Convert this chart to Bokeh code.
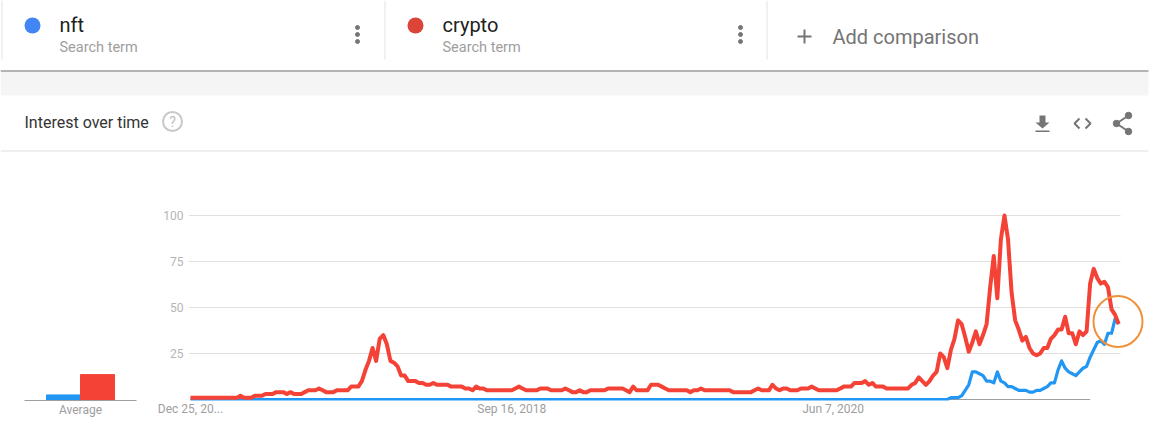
from bokeh.embed import file_html
from bokeh.resources import INLINE
from bokeh.plotting import figure
from bokeh.layouts import column, row
from bokeh.models import Range1d, FixedTicker
from bokeh.core.properties import value

# ---------- data ----------
tick_weeks = [0, 90, 180]
tick_labels = ["Dec 25, 20...", "Sep 16, 2018", "Jun 7, 2020"]
y_ticks = [25, 50, 75, 100]
avg_nft = 3
avg_crypto = 14
crypto = [
    1,1,1,1,1,1,1,1,1,1,1,1,1,1,2,1,1,1,2,2,2,3,3,3,4,4,4,3,4,3,
    3,3,4,5,5,5,6,5,4,4,4,5,5,5,5,7,7,7,10,16,21,28,21,33,35,30,21,20,18,13,
    13,10,10,10,9,9,8,8,9,8,8,8,8,7,7,7,7,6,6,5,7,6,6,5,5,5,5,5,5,5,
    5,6,7,6,5,5,5,5,6,6,6,5,5,5,5,6,5,4,4,5,4,4,5,5,5,5,5,6,6,6,
    6,6,5,4,7,5,5,5,5,8,8,8,7,6,5,5,5,5,5,5,4,5,5,6,5,5,5,5,5,5,
    5,5,4,4,4,4,4,4,5,6,5,5,5,8,6,5,6,6,5,5,5,6,6,6,7,6,5,5,5,5,
    5,5,6,7,7,7,9,9,9,10,8,9,7,7,7,6,6,6,6,6,6,6,8,9,12,10,8,10,13,15,
    25,23,17,27,33,43,41,34,26,31,37,30,35,41,61,78,55,87,100,87,58,43,38,32,34,28,25,24,25,28,
    28,33,35,38,38,45,36,36,30,37,35,37,63,71,66,63,64,61,49,46,41,
]
nft = [
    0,0,0,0,0,0,0,0,0,0,0,0,0,0,0,0,0,0,0,0,0,0,0,0,0,0,0,0,0,0,
    0,0,0,0,0,0,0,0,0,0,0,0,0,0,0,0,0,0,0,0,0,0,0,0,0,0,0,0,0,0,
    0,0,0,0,0,0,0,0,0,0,0,0,0,0,0,0,0,0,0,0,0,0,0,0,0,0,0,0,0,0,
    0,0,0,0,0,0,0,0,0,0,0,0,0,0,0,0,0,0,0,0,0,0,0,0,0,0,0,0,0,0,
    0,0,0,0,0,0,0,0,0,0,0,0,0,0,0,0,0,0,0,0,0,0,0,0,0,0,0,0,0,0,
    0,0,0,0,0,0,0,0,0,0,0,0,0,0,0,0,0,0,0,0,0,0,0,0,0,0,0,0,0,0,
    0,0,0,0,0,0,0,0,0,0,0,0,0,0,0,0,0,0,0,0,0,0,0,0,0,0,0,0,0,0,
    0,0,0,1,1,1,2,5,8,15,15,14,13,10,10,9,15,10,9,7,7,6,5,5,5,4,4,5,5,6,
    7,9,9,16,21,17,15,14,13,15,17,18,23,27,31,32,30,36,36,44,41,
]
weeks = list(range(len(nft)))
crypto_weeks = list(range(len(crypto)))

BLUE, RED = "#2196f3", "#f44336"
FONT = value("Roboto")
GREY = "#757575"

# ---------- header (page-pixel coordinates) ----------
h = figure(width=1174, height=203, x_range=Range1d(0, 1174), y_range=Range1d(203, 0),
           toolbar_location=None, output_backend="svg", min_border=0,
           x_axis_type=None, y_axis_type=None, outline_line_color=None)
h.grid.visible = False
h.quad(left=[0], right=[1148], top=[71], bottom=[95], fill_color="#f5f5f5", line_color=None)
h.quad(left=[0], right=[1148], top=[69.5], bottom=[71.5], fill_color="#b4b4b4", line_color=None)
h.quad(left=[0], right=[1148], top=[150], bottom=[151], fill_color="#e0e0e0", line_color=None)
h.quad(left=[1, 384, 766], right=[2, 385, 767], top=[0, 0, 0], bottom=[59, 59, 59],
       fill_color="#e4e4e4", line_color=None)
h.ellipse(x=[32, 415], y=[25, 25], width=16, height=16, fill_color=["#4285f4", "#db4437"], line_color=None)
h.text(x=[59, 442], y=[24, 24], text=["nft", "crypto"], text_font=FONT, text_font_size="20px",
       text_color="#212121", text_baseline="middle")
h.text(x=[59, 442], y=[47, 47], text=["Search term", "Search term"], text_font=FONT, text_font_size="14.5px",
       text_color="#9e9e9e", text_baseline="middle")
h.scatter(x=[357, 357, 357, 740, 740, 740], y=[27, 34, 41, 27, 34, 41], size=4, color=GREY)
h.segment(x0=[797, 804], y0=[36, 29], x1=[811, 804], y1=[36, 43], line_color=GREY, line_width=2)
h.text(x=[832], y=[36], text=["Add comparison"], text_font=FONT, text_font_size="20px",
       text_color=GREY, text_baseline="middle")
h.text(x=[24], y=[122], text=["Interest over time"], text_font=FONT, text_font_size="16px",
       text_color="#333333", text_baseline="middle")
h.ellipse(x=[172], y=[121], width=19, height=19, fill_color=None, line_color="#c8c8c8", line_width=2)
h.text(x=[172], y=[121.5], text=["?"], text_font=FONT, text_font_size="14px", text_color="#bdbdbd",
       text_align="center", text_baseline="middle")
h.patch(x=[1039, 1045, 1045, 1049, 1042, 1035, 1039], y=[115, 115, 122, 122, 128, 122, 122],
        fill_color=GREY, line_color=None)
h.quad(left=[1035], right=[1049], top=[130], bottom=[131.5], fill_color=GREY, line_color=None)
h.multi_line(xs=[[1079, 1074, 1079], [1085, 1090, 1085]], ys=[[118, 123, 128], [118, 123, 128]],
             line_color=GREY, line_width=2)
h.multi_line(xs=[[1128, 1116, 1128]], ys=[[115, 123, 131]], line_color=GREY, line_width=2)
h.scatter(x=[1128, 1116, 1128], y=[115, 123, 131], size=6.5, color=GREY)

# ---------- average bars ----------
Y_END = 190 / 1.85
b = figure(width=150, height=233, x_range=Range1d(-56 / 34, 56 / 34), y_range=Range1d(0, Y_END),
           toolbar_location=None, output_backend="svg", min_border_left=24, min_border_right=14,
           min_border_top=7, min_border_bottom=36, outline_line_color=None, y_axis_type=None)
b.grid.visible = False
b.vbar(x=[-0.5, 0.5], top=[avg_nft, avg_crypto], width=1, color=[BLUE, RED])
b.xaxis.ticker = FixedTicker(ticks=[0])
b.xaxis.major_label_overrides = {0: "Average"}
b.xaxis.axis_line_color = "#9e9e9e"
b.xaxis.major_tick_line_color = None
b.xaxis.major_tick_out = 0
b.xaxis.major_tick_in = 0
b.xaxis.minor_tick_line_color = None
b.xaxis.major_label_text_font = "Roboto"
b.xaxis.major_label_text_font_size = "12px"
b.xaxis.major_label_text_color = "#9e9e9e"
b.xaxis.major_label_standoff = 2

# ---------- main line chart ----------
PX_WK = 3.57
m = figure(width=1024, height=233,
           x_range=Range1d(-2 / PX_WK, 984 / PX_WK), y_range=Range1d(-1 / 1.85, Y_END),
           toolbar_location=None, output_backend="svg", min_border_left=38, min_border_right=0,
           min_border_top=7, min_border_bottom=31, outline_line_color=None)
m.xgrid.visible = False
m.ygrid.ticker = FixedTicker(ticks=y_ticks)
m.ygrid.grid_line_color = "#e0e0e0"
m.ygrid.cross_bounds = (-2 / PX_WK, 930 / PX_WK)
m.yaxis.ticker = FixedTicker(ticks=y_ticks)
m.yaxis.axis_line_color = None
m.yaxis.major_tick_line_color = None
m.yaxis.major_tick_out = 0
m.yaxis.major_tick_in = 0
m.yaxis.minor_tick_line_color = None
m.yaxis.major_label_text_font = "Roboto"
m.yaxis.major_label_text_font_size = "12px"
m.yaxis.major_label_text_color = "#b5b5b5"
m.yaxis.major_label_standoff = 5
m.xaxis.ticker = FixedTicker(ticks=tick_weeks)
m.xaxis.major_label_overrides = dict(zip(tick_weeks, tick_labels))
m.xaxis.axis_line_color = None
m.xaxis.major_tick_line_color = None
m.xaxis.major_tick_out = 0
m.xaxis.major_tick_in = 0
m.xaxis.minor_tick_line_color = None
m.xaxis.major_label_text_font = "Roboto"
m.xaxis.major_label_text_font_size = "12px"
m.xaxis.major_label_text_color = "#9e9e9e"
m.xaxis.major_label_standoff = 1
m.segment(x0=[0], y0=[0], x1=[252], y1=[0], line_color="#9e9e9e", line_width=1)
m.line(weeks, nft, line_color=BLUE, line_width=3.2, line_join="round")
m.line(crypto_weeks, crypto, line_color=RED, line_width=4, line_join="round")
# hand-drawn orange ring marking the last weeks
m.ellipse(x=[259.8], y=[42.4], width=[49], height=[51], width_units="screen", height_units="screen",
          fill_color=None, line_color="#f0913a", line_width=2)

layout = column(h, row(b, m, spacing=0), spacing=0)
open("out.html", "w").write(file_html(layout, INLINE))
